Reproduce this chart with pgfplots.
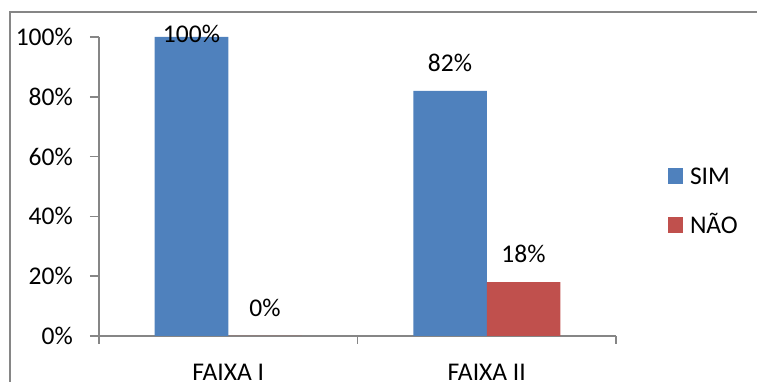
\documentclass[border=0pt]{standalone}
\usepackage{pgfplots}
\pgfplotsset{compat=1.18}
\usepackage{fontspec}
\setmainfont{Carlito}
\definecolor{simblue}{HTML}{4F81BD}
\definecolor{naored}{HTML}{C0504D}
\definecolor{axisgray}{HTML}{868686}
\begin{document}
\fontsize{25.5}{30}\selectfont
\begin{tikzpicture}[x=1pt,y=1pt]
\useasboundingbox (-99,-46) rectangle (658,336);
% chart frame
\draw[axisgray, line width=1.2pt] (-89,-60) -- (-89,324) -- (670,324);
\begin{axis}[
  at={(0,0)}, anchor=south west,
  scale only axis, width=517pt, height=299pt,
  xmin=-0.5, xmax=1.5, ymin=0, ymax=100,
  axis x line*=bottom, axis y line*=left,
  axis line style={axisgray, line width=1.5pt},
  ybar=0pt, bar width=73.5pt,
  xtick={0,1}, xticklabels={FAIXA I,FAIXA II},
  major x tick style={draw=none},
  minor xtick={-0.5,0.5,1.5},
  ytick={0,20,40,60,80,100},
  yticklabel={\pgfmathprintnumber{\tick}\%},
  tick align=outside, major tick length=9pt, minor tick length=8pt,
  every tick/.style={axisgray, line width=1.5pt},
  /pgf/number format/assume math mode=true,
  /pgf/number format/fixed, /pgf/number format/precision=0,
  yticklabel style={anchor=east, inner sep=0pt, xshift=-17pt},
  xticklabel style={anchor=north, inner sep=0pt, yshift=-19pt},
  visualization depends on={y \as \rawy},
  nodes near coords={\pgfmathprintnumber{\pgfplotspointmeta}\%},
  every node near coord/.append style={anchor=south, inner sep=0pt, black,
    yshift={ifthenelse(\rawy>99,-6,19)}},
  legend style={at={(1.1006,0.5619)}, anchor=north west, draw=none, fill=none,
    inner sep=0pt, outer sep=0pt, column sep=7pt, row sep=32pt,
    nodes={inner sep=0pt, text height=16pt, text depth=0pt}},
  legend cell align=left,
  legend image code/.code={\fill[#1,draw=none] (0pt,-7pt) rectangle (15pt,9pt);},
]
\addplot[fill=simblue, draw=none] coordinates {(0,100) (1,82)};
\addplot[fill=naored, draw=none] coordinates {(0,0) (1,18)};
\legend{SIM,NÃO}
\end{axis}
\end{tikzpicture}
\end{document}
